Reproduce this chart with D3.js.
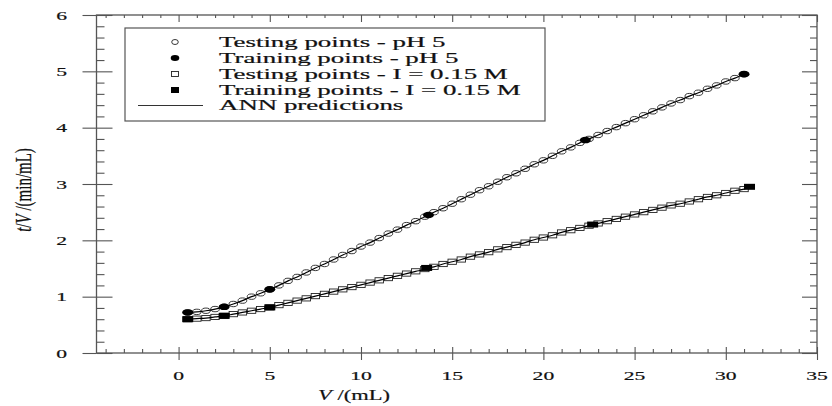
<!DOCTYPE html>
<html>
<head>
<meta charset="utf-8">
<script src="https://cdn.jsdelivr.net/npm/d3@7"></script>
<style>
  body { margin: 0; background: #fff; }
  text { font-family: "Liberation Serif", "DejaVu Serif", serif; fill: #111; stroke: #111; stroke-width: 0.2; }
</style>
</head>
<body>
<div id="chart"></div>
<script>
'use strict';

// testing points are every 0.5 mL
let test_v = [0.5, 1, 1.5, 2, 2.5, 3, 3.5, 4, 4.5, 5, 5.5, 6, 6.5, 7, 7.5, 8, 8.5, 9, 9.5, 10,
    10.5, 11, 11.5, 12, 12.5, 13, 13.5, 14, 14.5, 15, 15.5, 16, 16.5, 17, 17.5, 18, 18.5, 19, 19.5, 20,
    20.5, 21, 21.5, 22, 22.5, 23, 23.5, 24, 24.5, 25, 25.5, 26, 26.5, 27, 27.5, 28, 28.5, 29, 29.5, 30,
    30.5, 31];

let test_ph5 = [0.72, 0.73, 0.75, 0.78, 0.82, 0.87, 0.93, 1.00, 1.06, 1.13, 1.20, 1.28, 1.35, 1.43, 1.51, 1.58, 1.66, 1.74, 1.81, 1.89,
    1.96, 2.04, 2.12, 2.19, 2.27, 2.34, 2.42, 2.50, 2.57, 2.65, 2.73, 2.81, 2.89, 2.96, 3.04, 3.12, 3.19, 3.27, 3.35, 3.42,
    3.50, 3.58, 3.65, 3.73, 3.80, 3.87, 3.94, 4.01, 4.08, 4.15, 4.22, 4.29, 4.36, 4.43, 4.49, 4.56, 4.62, 4.69, 4.75, 4.82,
    4.88, 4.95];

let test_ionic = [0.60, 0.61, 0.62, 0.64, 0.66, 0.69, 0.72, 0.75, 0.78, 0.81, 0.85, 0.89, 0.93, 0.97, 1.01, 1.05, 1.09, 1.13, 1.17, 1.21,
    1.25, 1.29, 1.33, 1.37, 1.41, 1.45, 1.49, 1.53, 1.58, 1.62, 1.66, 1.71, 1.75, 1.79, 1.84, 1.88, 1.92, 1.96, 2.01, 2.05,
    2.09, 2.14, 2.18, 2.22, 2.26, 2.30, 2.34, 2.38, 2.42, 2.46, 2.50, 2.54, 2.58, 2.62, 2.65, 2.69, 2.73, 2.77, 2.80, 2.84,
    2.88, 2.91];

let train_ph5_v = [0.5, 2.5, 5, 13.7, 22.3, 31];
let train_ph5 = [0.72, 0.82, 1.13, 2.45, 3.78, 4.95];

let train_ionic_v = [0.5, 2.5, 5, 13.6, 22.7, 31.3];
let train_ionic = [0.60, 0.66, 0.81, 1.51, 2.28, 2.95];

let x_ticks = [0, 5, 10, 15, 20, 25, 30, 35];
let y_ticks = [0, 1, 2, 3, 4, 5, 6];

let legend_labels = ['Testing points - pH 5', 'Training points - pH 5',
    'Testing points - I = 0.15 M', 'Training points - I = 0.15 M', 'ANN predictions'];

let width = 832, height = 406;
let axis_col = '#555';
let sx = 1.6;   // the picture is stretched sideways, so the text is too
let sx_leg = 1.92;

let svg = d3.select('#chart').append('svg')
    .attr('width', width)
    .attr('height', height);

svg.append('rect').attr('width', width).attr('height', height).attr('fill', '#fff');

let x = d3.scaleLinear().domain([-4.5, 35]).range([96.5, 817]);
let y = d3.scaleLinear().domain([0, 6]).range([353, 15]);

let x_minor = d3.range(-4, 35, 1).filter(function(d) { return d % 5 != 0; });
let y_minor = d3.range(0, 6.01, 0.2).filter(function(d) { return Math.abs(d - Math.round(d)) > 0.01; });

// draws a set of ticks without labels
let tick_axis = function(axis_fn, scale, vals, size, tr) {
    let g = svg.append('g')
        .attr('transform', tr)
        .call(axis_fn(scale).tickValues(vals).tickSize(size).tickFormat(''));
    g.select('.domain').remove();
    g.selectAll('line').attr('stroke', axis_col).attr('stroke-width', 1.1);
    return g;
}

let bottom_tr = 'translate(0,' + y(0) + ')', top_tr = 'translate(0,' + y(6) + ')';
let left_tr = 'translate(' + x(-4.5) + ',0)', right_tr = 'translate(' + x(35) + ',0)';

// bottom: majors cross the axis, minors point in
tick_axis(d3.axisBottom, x, x_ticks, 7, bottom_tr);
tick_axis(d3.axisBottom, x, x_ticks, -6, bottom_tr);
tick_axis(d3.axisBottom, x, x_minor, -4, bottom_tr);
// top
tick_axis(d3.axisTop, x, x_ticks, -7, top_tr);
tick_axis(d3.axisTop, x, x_minor, -3, top_tr);
// left
tick_axis(d3.axisLeft, y, y_ticks, 14, left_tr);
tick_axis(d3.axisLeft, y, y_ticks, -16, left_tr);
tick_axis(d3.axisLeft, y, y_minor, -8, left_tr);
// right
tick_axis(d3.axisRight, y, y_ticks, -15, right_tr);
tick_axis(d3.axisRight, y, y_minor, -7, right_tr);

// frame
svg.append('rect')
    .attr('x', x(-4.5)).attr('y', y(6))
    .attr('width', x(35) - x(-4.5)).attr('height', y(0) - y(6))
    .attr('fill', 'none').attr('stroke', axis_col).attr('stroke-width', 1.3);

// tick labels
svg.append('g').selectAll('text')
    .data(x_ticks)
    .enter().append('text')
    .attr('transform', function(d) { return 'translate(' + x(d) + ',380) scale(' + sx + ',1)'; })
    .attr('text-anchor', 'middle')
    .attr('font-size', 13.5)
    .attr('stroke-width', 0.35)
    .text(function(d) { return d; });

svg.append('g').selectAll('text')
    .data(y_ticks)
    .enter().append('text')
    .attr('transform', function(d) { return 'translate(67,' + (y(d) + 4.5) + ') scale(' + sx + ',1)'; })
    .attr('text-anchor', 'end')
    .attr('font-size', 13.5)
    .attr('stroke-width', 0.35)
    .text(function(d) { return d; });

// axis titles
let xt = svg.append('text')
    .attr('transform', 'translate(354,400) scale(1.5,1)')
    .attr('text-anchor', 'middle')
    .attr('font-size', 15);
xt.append('tspan').attr('font-style', 'italic').text('V');
xt.append('tspan').text(' /(mL)');

let yt = svg.append('text')
    .attr('transform', 'translate(31,190) scale(' + sx + ',1) rotate(-90)')
    .attr('text-anchor', 'middle')
    .attr('font-size', 15);
yt.append('tspan').attr('font-style', 'italic').text('t');
yt.append('tspan').text('/');
yt.append('tspan').attr('font-style', 'italic').text('V');
yt.append('tspan').text(' /(min/mL)');

// markers
let open_circle = function(g, vs, ts) {
    g.selectAll(null).data(vs).enter().append('ellipse')
        .attr('cx', function(d) { return x(d); })
        .attr('cy', function(d, i) { return y(ts[i]); })
        .attr('rx', 4.3).attr('ry', 2.7)
        .attr('fill', '#fff').attr('stroke', '#222').attr('stroke-width', 0.9);
}
let open_square = function(g, vs, ts) {
    g.selectAll(null).data(vs).enter().append('rect')
        .attr('x', function(d) { return x(d) - 4.2; })
        .attr('y', function(d, i) { return y(ts[i]) - 2.6; })
        .attr('width', 8.4).attr('height', 5.2)
        .attr('fill', '#fff').attr('stroke', '#222').attr('stroke-width', 0.9);
}
let filled_circle = function(g, vs, ts) {
    g.selectAll(null).data(vs).enter().append('ellipse')
        .attr('cx', function(d) { return x(d); })
        .attr('cy', function(d, i) { return y(ts[i]); })
        .attr('rx', 5.5).attr('ry', 3.3)
        .attr('fill', '#000');
}
let filled_square = function(g, vs, ts) {
    g.selectAll(null).data(vs).enter().append('rect')
        .attr('x', function(d) { return x(d) - 5.5; })
        .attr('y', function(d, i) { return y(ts[i]) - 3; })
        .attr('width', 11).attr('height', 6)
        .attr('fill', '#000');
}

let plot = svg.append('g');
open_circle(plot, test_v, test_ph5);
open_square(plot, test_v, test_ionic);

// ANN prediction curves pass through the testing and training points
let ann_pts = function(vs, ts, tvs, tts) {
    let pts = vs.map(function(v, i) { return [v, ts[i]]; });
    tvs.forEach(function(v, i) { pts.push([v, tts[i]]); });
    pts.sort(function(a, b) { return a[0] - b[0]; });
    return pts;
}
let line = d3.line()
    .x(function(d) { return x(d[0]); })
    .y(function(d) { return y(d[1]); })
    .curve(d3.curveMonotoneX);

[ann_pts(test_v, test_ph5, train_ph5_v, train_ph5),
 ann_pts(test_v, test_ionic, train_ionic_v, train_ionic)].forEach(function(pts) {
    plot.append('path')
        .attr('d', line(pts))
        .attr('fill', 'none').attr('stroke', '#000').attr('stroke-width', 1.2);
});

filled_circle(plot, train_ph5_v, train_ph5);
filled_square(plot, train_ionic_v, train_ionic);

// legend
let lg = svg.append('g');
lg.append('rect')
    .attr('x', 125).attr('y', 28).attr('width', 420).attr('height', 93)
    .attr('fill', '#fff').attr('stroke', axis_col).attr('stroke-width', 1.2);

let row_y = [42, 58, 74, 90, 105.5];
let mk = 175;
lg.append('ellipse').attr('cx', mk).attr('cy', row_y[0]).attr('rx', 3.3).attr('ry', 2.5)
    .attr('fill', '#fff').attr('stroke', '#222').attr('stroke-width', 0.9);
lg.append('ellipse').attr('cx', mk).attr('cy', row_y[1]).attr('rx', 4.3).attr('ry', 3)
    .attr('fill', '#000');
lg.append('rect').attr('x', mk - 3.5).attr('y', row_y[2] - 2.5).attr('width', 7).attr('height', 5)
    .attr('fill', '#fff').attr('stroke', '#222').attr('stroke-width', 0.9);
lg.append('rect').attr('x', mk - 4).attr('y', row_y[3] - 3).attr('width', 8).attr('height', 6)
    .attr('fill', '#000');
lg.append('line').attr('x1', 138).attr('x2', 203).attr('y1', row_y[4]).attr('y2', row_y[4])
    .attr('stroke', '#333').attr('stroke-width', 1.1);

lg.selectAll('text.leg')
    .data(legend_labels)
    .enter().append('text')
    .attr('class', 'leg')
    .attr('transform', function(d, i) { return 'translate(219,' + (row_y[i] + 4.5) + ') scale(' + sx_leg + ',1)'; })
    .attr('font-size', 14)
    .text(function(d) { return d; });
</script>
</body>
</html>
